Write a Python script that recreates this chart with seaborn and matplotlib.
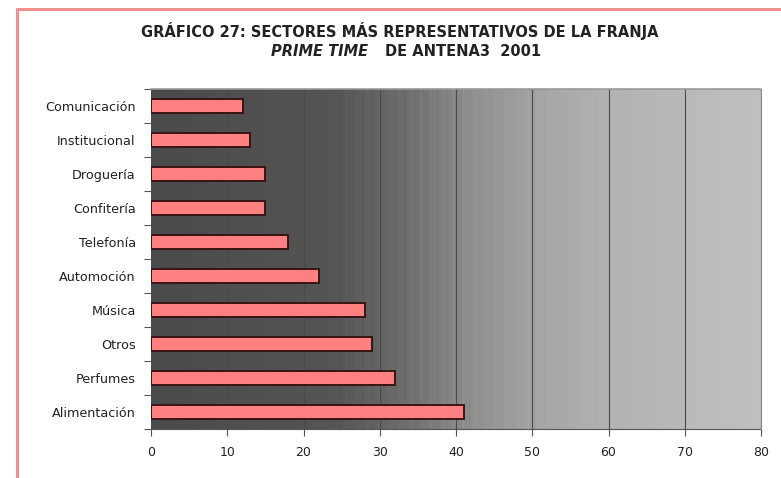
import numpy as np
import pandas as pd
import matplotlib
matplotlib.use("Agg")
import matplotlib.pyplot as plt
from matplotlib.colors import LinearSegmentedColormap
from matplotlib.lines import Line2D
import seaborn as sns

sectores = ["Comunicación", "Institucional", "Droguería", "Confitería", "Telefonía",
            "Automoción", "Música", "Otros", "Perfumes", "Alimentación"]
valores = [12, 13, 15, 15, 18, 22, 28, 29, 32, 41]
x_ticks = [0, 10, 20, 30, 40, 50, 60, 70, 80]

df = pd.DataFrame({"sector": sectores, "valor": valores})

sns.set_theme(style="white")
plt.rcParams["font.family"] = ["DejaVu Sans"]

fig = plt.figure(figsize=(7.81, 4.78), dpi=100)
ax = fig.add_axes([151 / 781, 1 - 429 / 478, 610 / 781, 340 / 478])

# grey gradient plot background, dark on the left and light on the right,
# with faint vertical streaks
grad = LinearSegmentedColormap.from_list(
    "fondo",
    [(0.0, "#4a4a4a"), (0.3, "#555555"), (0.42, "#6e6e6e"), (0.52, "#8e8e8e"),
     (0.64, "#a6a6a6"), (0.76, "#b3b3b3"), (1.0, "#c0c0c0")])
u = np.linspace(0, 1, 610)
streaks = 0.008 * np.sin(u * 2 * np.pi * 57) + 0.006 * np.sin(u * 2 * np.pi * 131 + 1.3)
ramp = np.clip(u + streaks, 0, 1).reshape(1, -1)
ax.imshow(ramp, cmap=grad, aspect="auto", extent=(0, 80, 9.5, -0.5),
          zorder=0, interpolation="nearest", vmin=0, vmax=1)

sns.barplot(data=df, x="valor", y="sector", orient="h", order=sectores,
            color="#ff8080", saturation=1, width=0.42,
            edgecolor="#3a1414", linewidth=1.4, ax=ax, zorder=3)

ax.set_xlim(0, 80)
ax.set_ylim(9.5, -0.5)
ax.set_xticks(x_ticks)
ax.set_xticklabels([str(t) for t in x_ticks], fontsize=9, color="#222222")
ax.set_xlabel("")
ax.set_ylabel("")
for t in x_ticks[1:]:
    ax.axvline(t, color="#4a4a4a", linewidth=0.8, zorder=1)

ax.tick_params(axis="y", length=0, labelsize=9.2, labelcolor="#222222", pad=11)
ax.set_yticks(np.arange(-0.5, 10, 1), minor=True)
ax.tick_params(axis="y", which="minor", length=5, color="#555555", width=0.8, left=True)
ax.tick_params(axis="x", length=5, color="#555555", width=0.8, bottom=True, pad=7)

for side in ["top", "right", "left"]:
    ax.spines[side].set_visible(False)
ax.spines["bottom"].set_color("#555555")
ax.spines["bottom"].set_linewidth(0.8)
ax.plot([0, 80], [-0.5, -0.5], color="#999999", linewidth=1.2, zorder=4, clip_on=False)
ax.plot([80, 80], [-0.5, 9.5], color="#888888", linewidth=0.8, zorder=4, clip_on=False)

fig.text(0.512, 1 - 31 / 478, "GRÁFICO 27: SECTORES MÁS REPRESENTATIVOS DE LA FRANJA",
         ha="center", va="center", fontsize=10.5, fontweight="bold", color="#222222")
fig.text(368 / 781, 1 - 52 / 478, "PRIME TIME", ha="right", va="center", fontsize=10.5,
         fontweight="bold", fontstyle="italic", color="#222222")
fig.text(385 / 781, 1 - 52 / 478, "DE ANTENA3  2001", ha="left", va="center", fontsize=10.5,
         fontweight="bold", color="#222222")

# pink frame along the top and left edges
fig.add_artist(Line2D([17 / 781, 1.0], [1 - 9 / 478, 1 - 9 / 478],
                      color="#f29090", linewidth=2.2, transform=fig.transFigure))
fig.add_artist(Line2D([17 / 781, 17 / 781], [0.0, 1 - 9 / 478],
                      color="#f29090", linewidth=2.2, transform=fig.transFigure))

fig.savefig("out.png", dpi=100)
